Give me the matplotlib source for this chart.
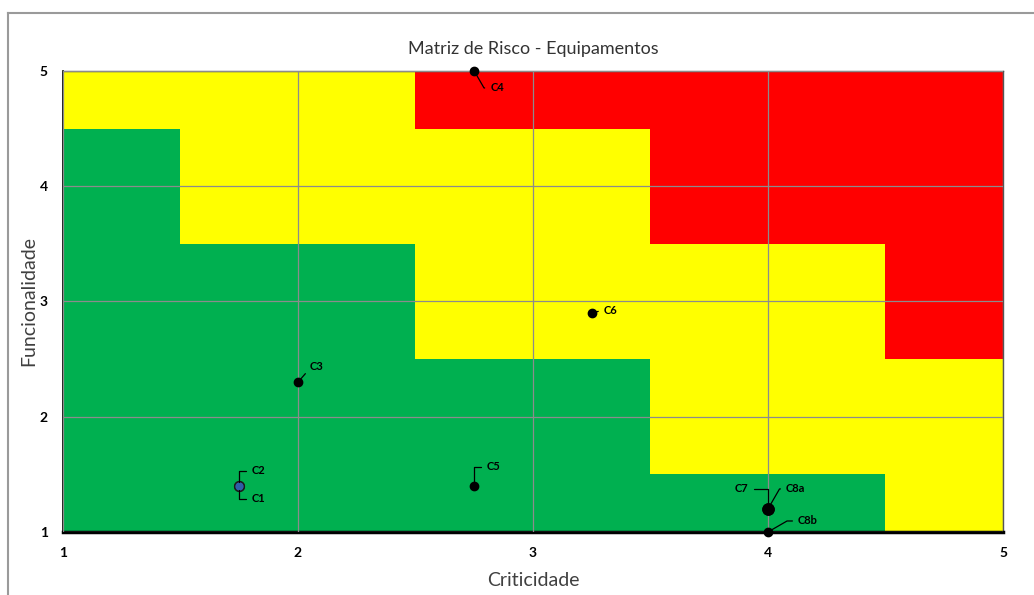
from matplotlib import pyplot as plt
from matplotlib.lines import Line2D
import numpy as np

# risk zones, one column per band of Criticidade
zone_left = [1.0, 1.5, 2.5, 3.5, 4.5]
zone_right = [1.5, 2.5, 3.5, 4.5, 5.0]
green_top = [4.5, 3.5, 2.5, 1.5, 1.0]
red_bottom = [5.0, 5.0, 4.5, 3.5, 2.5]

# equipment points
names = ['C1', 'C2', 'C3', 'C4', 'C5', 'C6', 'C7', 'C8a', 'C8b']
crit = [1.75, 1.75, 2.0, 2.75, 2.75, 3.25, 4.0, 4.0, 4.0]
func = [1.4, 1.4, 2.3, 5.0, 1.4, 2.9, 1.2, 1.2, 1.0]

ticks = [1, 2, 3, 4, 5]


def main():
    plt.rcParams['font.family'] = ['Lato', 'DejaVu Sans']
    fig = plt.figure(figsize=(10.34, 5.95), dpi=100)
    ax = fig.add_axes([0.0609, 0.1059, 0.9091, 0.7748])

    left = np.array(zone_left)
    width = np.array(zone_right) - left
    gtop = np.array(green_top)
    rbot = np.array(red_bottom)
    ax.bar(left, gtop - 1, width=width, bottom=1, align='edge', color='#00B050', lw=0, zorder=0)
    ax.bar(left, rbot - gtop, width=width, bottom=gtop, align='edge', color='#FFFF00', lw=0, zorder=0)
    ax.bar(left, 5 - rbot, width=width, bottom=rbot, align='edge', color='#FF0000', lw=0, zorder=0)

    ax.set_xlim(1, 5)
    ax.set_ylim(1, 5)
    ax.set_xticks(ticks)
    ax.set_yticks(ticks)
    ax.set_xticklabels([str(t) for t in ticks], fontweight='bold', fontsize=10)
    ax.set_yticklabels([str(t) for t in ticks], fontweight='bold', fontsize=10)
    ax.tick_params(length=0, pad=11)
    ax.tick_params(axis='y', pad=11)
    ax.grid(True, color='#8c8c8c', lw=0.9)
    ax.set_axisbelow(False)

    ax.spines['bottom'].set_linewidth(2.5)
    ax.spines['bottom'].set_color('black')
    ax.spines['left'].set_linewidth(1.2)
    ax.spines['left'].set_color('black')
    for s in ['top', 'right']:
        ax.spines[s].set_linewidth(1)
        ax.spines[s].set_color('#555555')

    # markers
    for n, x, y in zip(names, crit, func):
        if n in ('C1', 'C2'):
            ax.plot(x, y, 'o', ms=7, mfc='#2E5FA8', mec='#1a1a1a', mew=1, zorder=5, clip_on=False)
        elif n in ('C7', 'C8a'):
            ax.plot(x, y, 'o', ms=8, color='black', zorder=5, clip_on=False)
        else:
            ax.plot(x, y, 'o', ms=6, color='black', zorder=5, clip_on=False)

    # label offsets in pixels and leader style
    offsets = {
        'C1': (12, -13, 'angle,angleA=180,angleB=90,rad=0', (0, 0.5)),
        'C2': (12, 15, 'angle,angleA=180,angleB=90,rad=0', (0, 0.5)),
        'C3': (12, 16, 'arc3', (0, 0.3)),
        'C4': (16, -17, 'angle,angleA=180,angleB=-60,rad=0', (0, 0.5)),
        'C5': (12, 19, 'angle,angleA=180,angleB=90,rad=0', (0, 0.5)),
        'C6': (12, 3, 'arc3', (0, 0.5)),
        'C7': (-20, 20, 'angle,angleA=0,angleB=90,rad=0', (1, 0.5)),
        'C8a': (18, 20, 'angle,angleA=180,angleB=60,rad=0', (0, 0.5)),
        'C8b': (30, 11, 'angle,angleA=180,angleB=30,rad=0', (0, 0.5)),
    }
    for n, x, y in zip(names, crit, func):
        dx, dy, cs, rp = offsets[n]
        ax.annotate(n, (x, y), xytext=(dx, dy), textcoords='offset pixels',
                    ha='right' if dx < 0 else 'left', va='center',
                    fontsize=8, fontweight='bold', color='black', zorder=6,
                    annotation_clip=False,
                    arrowprops=dict(arrowstyle='-', color='black', lw=0.9,
                                    connectionstyle=cs, relpos=rp,
                                    shrinkA=2, shrinkB=3))

    ax.set_title('Matriz de Risco - Equipamentos', fontsize=13, color='#333333',
                 fontweight='normal', pad=12)
    ax.set_xlabel('Criticidade', fontsize=14, color='#404040', labelpad=9)
    ax.set_ylabel('Funcionalidade', fontsize=14, color='#404040', labelpad=2)

    # outer frame lines (left and top)
    fig.add_artist(Line2D([8 / 1034, 8 / 1034], [0, 1 - 13 / 595], color='#9a9a9a', lw=1.5))
    fig.add_artist(Line2D([8 / 1034, 1], [1 - 13 / 595, 1 - 13 / 595], color='#9a9a9a', lw=1.5))

    plt.savefig('out.png', dpi=100)


if __name__ == "__main__":
    main()
